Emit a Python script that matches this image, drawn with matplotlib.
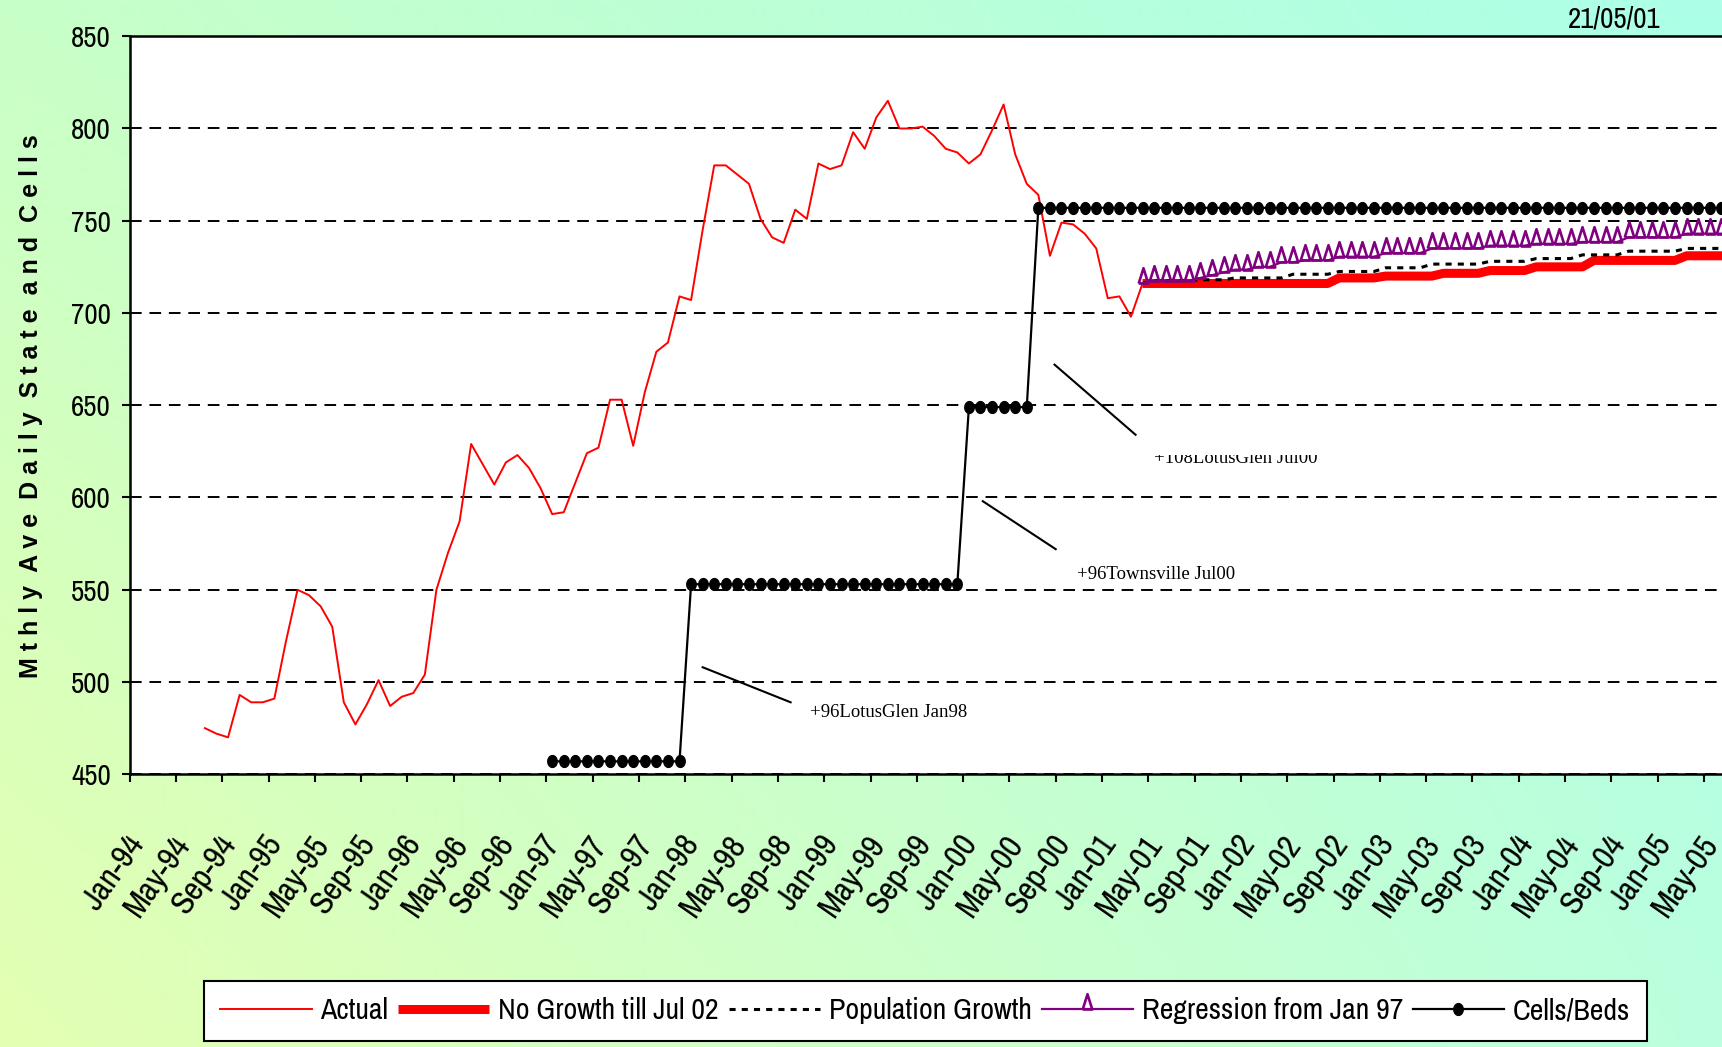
#!/usr/bin/env python3
import matplotlib
matplotlib.use('Agg')
import matplotlib.pyplot as plt
import numpy as np
from matplotlib import font_manager
from matplotlib.path import Path
from matplotlib.transforms import Bbox, TransformedBbox, ScaledTranslation

# x axis: months counted from Jan-94, one labelled tick every 4 months
tick_labels = [
    'Jan-94', 'May-94', 'Sep-94', 'Jan-95', 'May-95', 'Sep-95',
    'Jan-96', 'May-96', 'Sep-96', 'Jan-97', 'May-97', 'Sep-97',
    'Jan-98', 'May-98', 'Sep-98', 'Jan-99', 'May-99', 'Sep-99',
    'Jan-00', 'May-00', 'Sep-00', 'Jan-01', 'May-01', 'Sep-01',
    'Jan-02', 'May-02', 'Sep-02', 'Jan-03', 'May-03', 'Sep-03',
    'Jan-04', 'May-04', 'Sep-04', 'Jan-05', 'May-05',
]

# Actual monthly average, Jul-94 .. Apr-01
actual_start = 6
actual = [
    475, 472, 470, 493, 489, 489, 491, 522, 550, 547,
    541, 530, 489, 477, 488, 501, 487, 492, 494, 504,
    550, 570, 587, 629, 618, 607, 619, 623, 616, 605,
    591, 592, 608, 624, 627, 653, 653, 628, 657, 679,
    684, 709, 707, 745, 780, 780, 775, 770, 751, 741,
    738, 756, 751, 781, 778, 780, 798, 789, 806, 815,
    800, 800, 801, 796, 789, 787, 781, 786, 799, 813,
    786, 770, 764, 731, 749, 748, 743, 735, 708, 709,
    698, 716,
]

# Cells/Beds, Jan-97 onwards
cells_start = 36
cells_beds = [
    457, 457, 457, 457, 457, 457, 457, 457, 457, 457, 457, 457,
    553, 553, 553, 553, 553, 553, 553, 553, 553, 553, 553, 553,
    553, 553, 553, 553, 553, 553, 553, 553, 553, 553, 553, 553,
    649, 649, 649, 649, 649, 649,
    757, 757, 757, 757, 757, 757, 757, 757, 757, 757, 757, 757,
    757, 757, 757, 757, 757, 757, 757, 757, 757, 757, 757, 757,
    757, 757, 757, 757, 757, 757, 757, 757, 757, 757, 757, 757,
    757, 757, 757, 757, 757, 757, 757, 757, 757, 757, 757, 757,
    757, 757, 757, 757, 757, 757, 757, 757, 757, 757, 757, 757,
    757, 757,
]

# forecasts, Apr-01 onwards
forecast_start = 87
no_growth = [
    716, 716, 716, 716, 716, 716, 716, 716, 716, 716, 716, 716, 716, 716, 716, 716, 716,
    719, 719, 719, 719,
    720, 720, 720, 720, 720,
    721.5, 721.5, 721.5, 721.5,
    723, 723, 723, 723,
    725, 725, 725, 725, 725,
    728.5, 728.5, 728.5, 728.5, 728.5, 728.5, 728.5, 728.5,
    731, 731, 731, 731, 731, 731,
]
population_growth = [
    716,
    717.5, 717.5, 717.5, 717.5,
    718, 718, 718,
    719, 719, 719, 719, 719,
    721, 721, 721, 721,
    722.5, 722.5, 722.5, 722.5,
    724.5, 724.5, 724.5, 724.5,
    726.5, 726.5, 726.5, 726.5, 726.5,
    728, 728, 728, 728,
    729.5, 729.5, 729.5, 729.5,
    731.5, 731.5, 731.5, 731.5,
    733.5, 733.5, 733.5, 733.5, 733.5,
    735, 735, 735, 735, 735, 735,
]
regression = [
    716,
    717.5, 717.5, 717.5, 717.5,
    719, 720.5, 722,
    723.5, 723.5, 725, 725,
    727.5, 727.5, 728.5, 728.5, 728.5,
    730.5, 730.5, 730.5, 730.5,
    732.5, 732.5, 732.5, 732.5,
    735, 735, 735, 735, 735,
    736.5, 736.5, 736.5, 736.5,
    737.5, 737.5, 737.5, 737.5,
    738.5, 738.5, 738.5, 738.5,
    741, 741, 741, 741, 741,
    743, 743, 743, 743, 743, 743,
]

# notes: text, leader line start/end, text position (months, value)
notes = [
    ('+96LotusGlen Jan98', (49.5, 508), (57.1, 489), (58.8, 481)),
    ('+96Townsville Jul00', (73.7, 598), (80.0, 572), (81.8, 556)),
    ('+108LotusGlen Jul00', (79.9, 672), (86.9, 634), (88.5, 618.5)),
]

avail = {f.name for f in font_manager.fontManager.ttflist}
NARROW, K = 'Liberation Sans', 0.82
for name in ['Liberation Sans Narrow', 'Arial Narrow', 'Archivo Narrow', 'Barlow Condensed']:
    if name in avail:
        NARROW, K = name, 1.0
        break
plt.rcParams['font.family'] = [NARROW, 'DejaVu Sans']


def xs(start, values):
    # points sit in the middle of each month slot
    return np.arange(len(values)) + start + 0.5


fig = plt.figure(figsize=(17.22, 10.47), dpi=100)

# background gradient
yy, xx = np.mgrid[0:1:200j, 0:1:330j]
tl = np.array([200, 255, 200]) / 255
tr = np.array([172, 255, 232]) / 255
bl = np.array([228, 255, 178]) / 255
br = np.array([186, 255, 222]) / 255
grad = (tl * ((1 - xx) * (1 - yy))[..., None] + tr * (xx * (1 - yy))[..., None]
        + bl * ((1 - xx) * yy)[..., None] + br * (xx * yy)[..., None])
bg = fig.add_axes([0, 0, 1, 1], zorder=-5)
bg.imshow(grad, aspect='auto', extent=[0, 1, 0, 1])
bg.axis('off')

ax = fig.add_axes([0.0753, 0.2605, 0.9411, 0.7049])
ax.set_facecolor('white')

tri = Path([(-0.5, 0.0), (0.5, 0.0), (0.0, 1.6), (-0.5, 0.0)])
t = np.linspace(0, 2 * np.pi, 40)
dot = Path(np.column_stack([0.8 * np.cos(t), np.sin(t)]))

ax.plot(xs(actual_start, actual), actual, color='red', lw=1.4, label='Actual')
ax.plot(xs(forecast_start, no_growth), no_growth, color='red', lw=6.5,
        solid_capstyle='butt', label='No Growth till Jul 02')
ax.plot(xs(forecast_start, population_growth), population_growth, color='black',
        lw=2.2, ls=(0, (2, 2)), label='Population Growth')
ax.plot(xs(forecast_start, regression), regression, color='#800080', lw=1.6,
        marker=tri, ms=22, mfc='none', mec='#800080', mew=1.9,
        label='Regression from Jan 97')
ax.plot(xs(cells_start, cells_beds), cells_beds, color='black', lw=1.6,
        marker=dot, ms=8.5, mfc='black', mec='black', label='Cells/Beds')

for text, p0, p1, pt in notes:
    ax.plot([p0[0], p1[0]], [p0[1], p1[1]], color='black', lw=1.5)
    txt = ax.text(pt[0], pt[1], text, family='Liberation Serif', fontsize=13.5,
                  ha='left', va='baseline')
    if text.startswith('+108'):
        # only the lower part of this note shows in the original
        txt.set_clip_box(TransformedBbox(Bbox([[80, 600], [130, 623]]), ax.transData))
        txt.set_clip_on(True)

ax.set_xlim(0, 140)
ax.set_ylim(450, 850)
ax.set_yticks(np.arange(450, 851, 50))
ax.set_xticks(np.arange(0, 4 * len(tick_labels), 4))
ax.tick_params(axis='x', direction='out', length=5.5, width=1.5, pad=40.6)
ax.tick_params(axis='y', direction='out', length=5.5, width=1.5, pad=8)
ax.set_xticklabels(tick_labels, rotation=55, ha='right', va='center',
                   rotation_mode='anchor', fontsize=24 * K)
# shift the slanted labels a little to the right (after tick_params, which resets transforms)
for lab in ax.get_xticklabels():
    lab.set_transform(lab.get_transform() + ScaledTranslation(0.08, 0, fig.dpi_scale_trans))
for lab in ax.get_yticklabels():
    lab.set_fontsize(21 * K)

ax.yaxis.grid(True, color='black', ls=(0, (6, 4)), lw=1.4)
ax.set_axisbelow(True)
for side in ['left', 'bottom', 'top']:
    ax.spines[side].set_linewidth(1.8)
ax.spines['right'].set_visible(False)

fig.text(0.018, 0.6122, 'M t h l y  A v e  D a i l y  S t a t e  a n d  C e l l s',
         rotation=90, ha='center', va='center', family='Liberation Sans',
         fontweight='bold', fontsize=18)
fig.text(0.9373, 0.9819, '21/05/01', ha='center', va='center', fontsize=21 * K)

leg = ax.legend(loc='upper left', bbox_to_anchor=(0.1185, 0.0633),
                bbox_transform=fig.transFigure, ncol=5, fancybox=False,
                edgecolor='black', framealpha=1, borderaxespad=0,
                handlelength=3.05, handletextpad=0.3, columnspacing=0.33,
                borderpad=0.55, prop=dict(family=NARROW, size=21.5 * K))
leg.get_frame().set_linewidth(1.5)

fig.savefig('out.png', dpi=100)
